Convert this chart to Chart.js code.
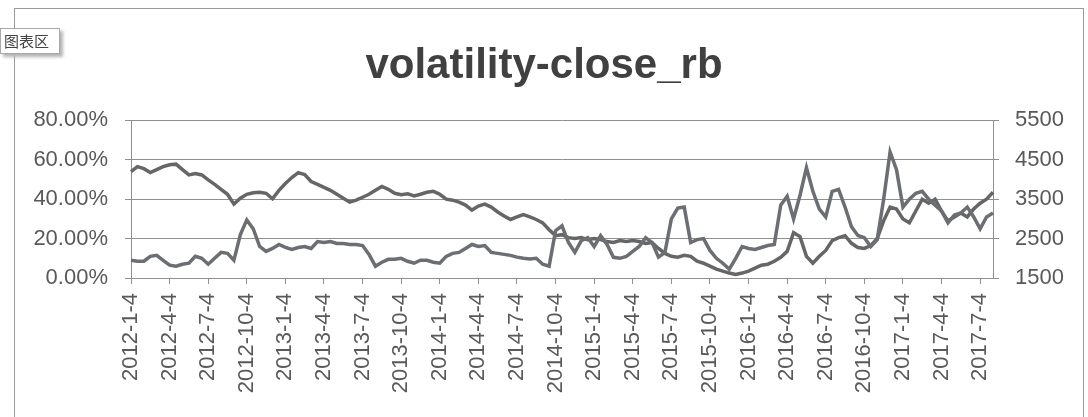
<!DOCTYPE html>
<html>
<head>
<meta charset="utf-8">
<script src="https://cdn.jsdelivr.net/npm/chart.js@4"></script>
<style>
    html, body { margin: 0; padding: 0; background: #fff; }
    #wrap { position: relative; width: 1088px; height: 417px; overflow: hidden; }
    #frame { position: absolute; left: 14px; top: 8px; width: 1068px; height: 430px; border: 1px solid #9a9a9a; }
    #tag {
        position: absolute; left: 0; top: 28px; width: 58px; height: 24px;
        border: 1px solid #a8a8a8; background: #fff; box-shadow: 3px 3px 3px #b5b5b5;
        font: 15px "Noto Sans CJK SC", sans-serif; color: #444; line-height: 24px; text-indent: 3px;
    }
    canvas { position: absolute; left: 0; top: 0; }
</style>
</head>
<body>
<div id="wrap">
    <div id="frame"></div>
    <canvas id="volChart" width="1088" height="417"></canvas>
    <div id="tag">图表区</div>
</div>
<script>
// quarter ticks shown on the x axis
const quarterTicks = [
    '2012-1-4', '2012-4-4', '2012-7-4', '2012-10-4',
    '2013-1-4', '2013-4-4', '2013-7-4', '2013-10-4',
    '2014-1-4', '2014-4-4', '2014-7-4', '2014-10-4',
    '2015-1-4', '2015-4-4', '2015-7-4', '2015-10-4',
    '2016-1-4', '2016-4-4', '2016-7-4', '2016-10-4',
    '2017-1-4', '2017-4-4', '2017-7-4'
];

// sample dates: the 4th and 19th of each month, 2012-1-4 .. 2017-8-4
const dates = [];
for (let y = 2012; y <= 2017; y++) {
    for (let m = 1; m <= 12; m++) {
        if (y === 2017 && m > 8) break;
        dates.push(y + '-' + m + '-4');
        if (!(y === 2017 && m === 8)) dates.push(y + '-' + m + '-19');
    }
}

// volatility, in percent (left axis)
const volatility = [
    // 2012
    9, 8.5, 8.5, 11, 11.5, 9, 6.5, 6, 7, 7.5, 11, 10,
    7, 10, 13, 12.5, 9, 22, 29.5, 25, 16, 13.5, 15, 17,
    // 2013
    15.5, 14.5, 15.5, 16, 15, 18.5, 18, 18.5, 17.5, 17.5, 17, 17,
    16.5, 12, 6, 8, 9.5, 9.5, 10, 8.5, 7.5, 9, 9, 8,
    // 2014
    7.5, 11, 12.5, 13, 15, 17, 16, 16.5, 13, 12.5, 12, 11.5,
    10.6, 10, 9.6, 10, 7, 6, 24, 26.5, 18, 13, 19, 20.5,
    // 2015
    16, 21.5, 17, 10.5, 10, 11, 13.5, 16, 20.5, 18, 10.6, 13,
    30, 35.5, 36, 18, 19.5, 20, 14, 10, 7.5, 4.5, 10, 16,
    // 2016
    15, 14.5, 15.5, 16.5, 17, 37, 41.5, 30, 42, 56, 44, 35,
    31, 44, 45, 36, 26, 21.6, 20.5, 16, 19.5, 40, 64, 55,
    // 2017
    36, 40, 43, 44, 40, 37, 34, 28, 32, 33, 36, 31, 25, 31, 33
];

// rb close price (right axis)
const closePrice = [
    // 2012
    4200, 4325, 4275, 4175, 4250, 4325, 4375, 4390, 4250, 4115, 4150, 4115,
    3990, 3875, 3750, 3625, 3375, 3525, 3625, 3665, 3675, 3650, 3510, 3725,
    // 2013
    3900, 4050, 4175, 4125, 3950, 3875, 3800, 3725, 3625, 3525, 3425, 3475,
    3550, 3625, 3725, 3825, 3750, 3650, 3615, 3640, 3585, 3625, 3675, 3700,
    // 2014
    3625, 3500, 3475, 3425, 3350, 3225, 3325, 3375, 3300, 3175, 3075, 2985,
    3050, 3110, 3050, 2985, 2900, 2725, 2575, 2600, 2525, 2500, 2525, 2475,
    // 2015
    2500, 2475, 2425, 2400, 2450, 2425, 2450, 2425, 2375, 2400, 2250, 2125,
    2050, 2030, 2075, 2050, 1925, 1875, 1800, 1725, 1675, 1625, 1590, 1625,
    // 2016
    1675, 1750, 1825, 1850, 1925, 2025, 2175, 2650, 2550, 2050, 1875, 2050,
    2200, 2450, 2525, 2575, 2380, 2275, 2250, 2325, 2500, 2950, 3300, 3250,
    // 2017
    3000, 2900, 3200, 3500, 3400, 3500, 3200, 2950, 3050, 3150, 3050, 3250, 3400, 3500, 3675
];

const tickFont = { family: '"Liberation Sans", Arial, sans-serif', size: 22 };
const textColor = '#595959';
const gridColor = '#8f8f8f';

function initializeVolChart() {
    try {
        const ctx = document.getElementById('volChart').getContext('2d');
        new Chart(ctx, {
            type: 'line',
            data: {
                labels: dates,
                datasets: [{
                    label: 'volatility',
                    data: volatility,
                    yAxisID: 'y',
                    borderColor: '#6b6e72',
                    borderWidth: 3.5,
                    pointRadius: 0,
                    tension: 0
                }, {
                    label: 'close',
                    data: closePrice,
                    yAxisID: 'y2',
                    borderColor: '#666666',
                    borderWidth: 3.5,
                    pointRadius: 0,
                    tension: 0
                }]
            },
            options: {
                responsive: false,
                animation: false,
                layout: { padding: { top: 10, left: 0, right: 0, bottom: 0 } },
                plugins: {
                    legend: { display: false },
                    tooltip: { enabled: false },
                    title: {
                        display: true,
                        text: 'volatility-close_rb',
                        color: '#404040',
                        font: { family: '"Liberation Sans", Arial, sans-serif', size: 42, weight: 'bold' },
                        padding: { top: 31, bottom: 29 }
                    }
                },
                scales: {
                    x: {
                        type: 'category',
                        offset: false,
                        afterBuildTicks: axis => {
                            axis.ticks = axis.ticks.filter(t => quarterTicks.includes(dates[t.value]));
                        },
                        afterFit: axis => { axis.height = 139; },
                        ticks: {
                            autoSkip: false,
                            maxRotation: 90,
                            minRotation: 90,
                            padding: 9,
                            color: textColor,
                            font: tickFont
                        },
                        grid: { drawOnChartArea: false, tickLength: 6, color: gridColor },
                        border: { color: gridColor }
                    },
                    y: {
                        position: 'left',
                        min: 0,
                        max: 80,
                        afterFit: axis => { axis.width = 131; },
                        ticks: {
                            stepSize: 20,
                            padding: 17,
                            color: textColor,
                            font: tickFont,
                            callback: v => v.toFixed(2) + '%'
                        },
                        grid: { color: gridColor, tickLength: 6 },
                        border: { color: gridColor }
                    },
                    y2: {
                        position: 'right',
                        min: 1500,
                        max: 5500,
                        afterFit: axis => { axis.width = 95; },
                        ticks: {
                            stepSize: 1000,
                            padding: 16,
                            color: textColor,
                            font: tickFont,
                            callback: v => String(v)
                        },
                        grid: { drawOnChartArea: false, tickLength: 6, color: gridColor },
                        border: { color: gridColor }
                    }
                }
            }
        });
    } catch (error) {
        console.error('Error initializing chart:', error);
    }
}

document.addEventListener('DOMContentLoaded', function() {
    initializeVolChart();
});
</script>
</body>
</html>
